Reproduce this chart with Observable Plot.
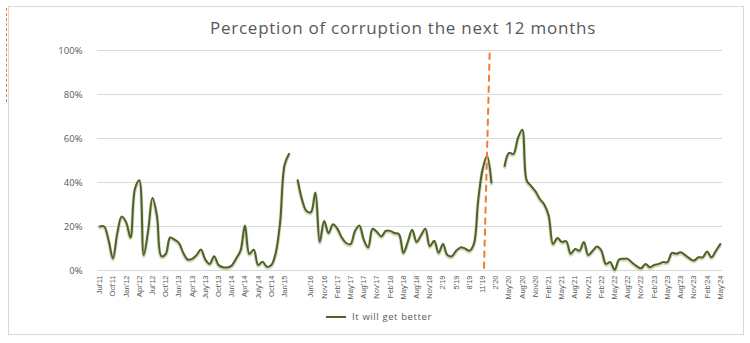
<!DOCTYPE html>
<html>
<head>
<meta charset="utf-8">
<script src="https://cdn.jsdelivr.net/npm/d3@7"></script>
<script src="https://cdn.jsdelivr.net/npm/@observablehq/plot@0.6"></script>
<style>
  html, body { margin: 0; padding: 0; background: #fff; }
  #wrap { position: relative; width: 750px; height: 343px; overflow: hidden; background: #fff; }
  #frame { position: absolute; left: 8px; top: 6px; width: 736px; height: 329px; border: 1px solid #d9d9d9; box-sizing: border-box; }
  #edge { position: absolute; left: 6px; top: 8px; height: 94px; border-left: 1px dashed #ed7d31; }
  #title { position: absolute; left: 0; width: 806px; top: 16px; text-align: center; font-family: "Open Sans", sans-serif; font-size: 17px; color: #595959; letter-spacing: 0.75px; }
  #chart { position: absolute; left: 0; top: 0; }
  #legend { position: absolute; top: 310px; left: 0; width: 758px; text-align: center; font-family: "Open Sans", sans-serif; font-size: 9.5px; color: #595959; letter-spacing: 0.6px; }
  #legend .sw { display: inline-block; width: 20px; height: 2px; background: #4f6128; vertical-align: middle; margin-right: 6px; }
</style>
</head>
<body>
<div id="wrap">
  <div id="frame"></div>
  <div id="edge"></div>
  <div id="chart"></div>
  <div id="title">Perception of corruption the next 12 months</div>
  <div id="legend"><span class="sw"></span><span>It will get better</span></div>
</div>
<script>
// Share answering "It will get better" (%), one value per survey slot; null = no survey
const values = [
  20, 20, 14, 5.5, 17, 24.5, 22, 15, 37, 41,
  7, 18, 33, 25, 6.5, 7.5, 15, 14, 12.5, 8,
  5, 5.3, 7, 9.5, 5, 3, 6.5, 2.5, 1.5, 1.4,
  2.3, 5.5, 9, 20.5, 7.5, 9.5, 2.5, 4, 1.7, 2.5,
  8, 22, 48, 53, null, 41, 32, 27, 26.5, 35.5,
  13, 22.5, 17, 21, 19, 15, 12.5, 12, 18, 20.5,
  14, 10.5, 19, 17.5, 15.5, 18, 18, 17, 16.5, 8,
  13, 18.5, 13, 16, 19, 11, 13.5, 8, 12, 7,
  6.5, 9, 10.5, 10, 9, 12, 32, 46, 52, 40,
  null, null, 47.5, 53.5, 53, 60, 64, 41, 38.5, 36,
  32.5, 30, 25, 12, 14.8, 13, 13.3, 7.6, 9.8, 9,
  13, 7, 9, 10.9, 9, 3, 3.8, 0.3, 5, 5.3,
  5.3, 3.5, 2, 1, 3, 1.5, 2.5, 3, 3.8, 3.8,
  8, 7.6, 8.3, 7, 5.5, 4.5, 6, 6, 8.6, 6,
  9, 12
];

// Category labels, one for every third slot
const tickLabels = [
  "Jul'11", "Oct'11", "Jan'12", "Apr'12", "Jul'12", "Oct'12", "Jan'13", "Apr'13",
  "July'13", "Oct'13", "Jan'14", "Apr'14", "July'14", "Oct'14", "Jan'15", "",
  "Jun'16", "Nov'16", "Feb'17", "May'17", "Aug'17", "Nov'17", "Feb'18", "May'18",
  "Aug'18", "Nov'18", "2'19", "5'19", "8'19", "11'19", "2'20", "May'20",
  "Aug'20", "Nov20", "Feb'21", "May'21", "Aug'21", "Nov'21", "Feb'22", "May'22",
  "Aug'22", "Nov'22", "Feb'23", "May'23", "Aug'23", "Nov'23", "Feb'24", "May'24"
];
const labelEvery = 3;

const yTicks = [0, 20, 40, 60, 80, 100];

// Dashed marker (slot position / percent at its two ends)
const markerLine = [{x1: 88.6, y1: 99, x2: 87.3, y2: 0}];

const data = values.map((v, i) => ({i, v}));
const tickIdx = tickLabels.map((_, k) => k * labelEvery);

const plot = Plot.plot({
  width: 750,
  height: 305,
  marginTop: 50,
  marginBottom: 35,
  marginLeft: 97,
  marginRight: 28,
  style: {fontFamily: "Open Sans, sans-serif", color: "#595959", background: "transparent"},
  x: {domain: [-0.5, values.length - 0.5]},
  y: {domain: [0, 100]},
  marks: [
    Plot.ruleY(yTicks, {stroke: "#d9d9d9", strokeWidth: 1}),
    Plot.axisY({ticks: yTicks, tickFormat: d => d + "%", tickSize: 0, tickPadding: 15, fontSize: 9.5, label: null}),
    Plot.axisX({ticks: tickIdx, tickFormat: i => tickLabels[i / labelEvery], tickSize: 0, tickRotate: -90, tickPadding: 5, fontSize: 7.5, fontFamily: "Liberation Sans, sans-serif", label: null}),
    Plot.line(data, {x: "i", y: "v", curve: "catmull-rom", stroke: "#aebd8c", strokeWidth: 3.5, strokeOpacity: 0.55, dy: 1.2}),
    Plot.line(data, {x: "i", y: "v", curve: "catmull-rom", stroke: "#4f6128", strokeWidth: 2}),
    Plot.link(markerLine, {x1: "x1", y1: "y1", x2: "x2", y2: "y2", stroke: "#ed7d31", strokeWidth: 2, strokeDasharray: "7,4"})
  ]
});
document.getElementById("chart").appendChild(plot);
</script>
</body>
</html>
